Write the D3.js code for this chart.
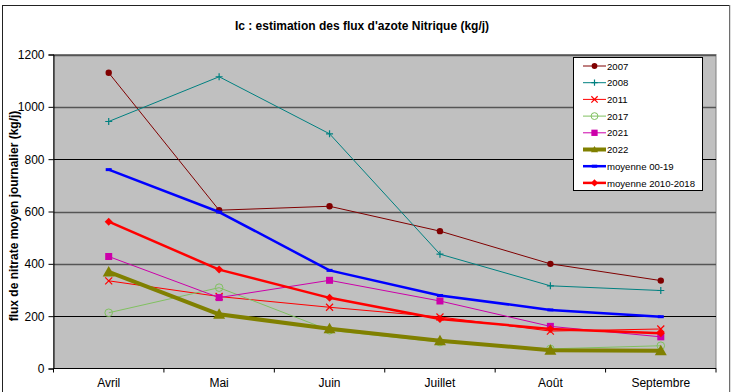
<!DOCTYPE html>
<html>
<head>
<meta charset="utf-8">
<script src="https://cdn.jsdelivr.net/npm/d3@7"></script>
<style>
  html, body { margin: 0; padding: 0; background: #fff; }
  svg { display: block; font-family: Arial, "Liberation Sans", sans-serif; }
</style>
</head>
<body>
<svg id="chart" width="733" height="392"></svg>
<script>
// Months on the x axis
const months = ["Avril", "Mai", "Juin", "Juillet", "Août", "Septembre"];
// Y axis ticks (kg/j)
const yTicks = [0, 200, 400, 600, 800, 1000, 1200];

// Daily nitrate flux per series
const s2007 = [1130, 605, 620, 525, 400, 336];
const s2008 = [944, 1115, 897, 437, 316, 298];
const s2011 = [335, 275, 234, 197, 143, 151];
const s2017 = [213, 309, 146, 101, 75, 87];
const s2021 = [428, 271, 337, 258, 161, 121];
const s2022 = [369, 207, 152, 106, 70, 68];
const moy0019 = [760, 598, 375, 279, 224, 198];
const moy1018 = [561, 378, 270, 189, 151, 135];

const series = [
  { name: "2007", values: s2007, color: "#800000", width: 1, marker: "circle", size: 3.2 },
  { name: "2008", values: s2008, color: "#008080", width: 1, marker: "plus", size: 3.5 },
  { name: "2011", values: s2011, color: "#FF0000", width: 1, marker: "x", size: 3.5 },
  { name: "2017", values: s2017, color: "#80C060", width: 1, marker: "ocircle", size: 3.8 },
  { name: "2021", values: s2021, color: "#CC00AA", width: 1, marker: "square", size: 3.5 },
  { name: "2022", values: s2022, color: "#808000", width: 4, marker: "triangle", size: 6 },
  { name: "moyenne 00-19", values: moy0019, color: "#0000FF", width: 2.5, marker: "dash", size: 3 },
  { name: "moyenne 2010-2018", values: moy1018, color: "#FF0000", width: 2.5, marker: "diamond", size: 4 }
];

const svg = d3.select("#chart");
const plot = { left: 53.5, right: 716, top: 54.5, bottom: 368.5 };

// Outer chart frame
svg.append("rect")
  .attr("x", 2.5).attr("y", 5.5).attr("width", 727).attr("height", 392)
  .attr("fill", "#fff").attr("stroke", "#222").attr("stroke-width", 1);
svg.append("line")
  .attr("x1", 730).attr("x2", 730).attr("y1", 5).attr("y2", 392)
  .attr("stroke", "#bbb");

const x = d3.scaleBand().domain(months).range([plot.left, plot.right]).padding(0);
const y = d3.scaleLinear().domain([0, 1200]).range([plot.bottom, plot.top]);
const cx = m => x(m) + x.bandwidth() / 2;

// Plot area
svg.append("rect")
  .attr("x", plot.left).attr("y", plot.top)
  .attr("width", plot.right - plot.left).attr("height", plot.bottom - plot.top)
  .attr("fill", "#C0C0C0").attr("stroke", "#808080").attr("stroke-width", 1);

// Horizontal gridlines
svg.append("g").selectAll("line")
  .data(yTicks.filter(t => t > 0))
  .join("line")
  .attr("x1", plot.left).attr("x2", plot.right)
  .attr("y1", d => Math.round(y(d)) + 0.5).attr("y2", d => Math.round(y(d)) + 0.5)
  .attr("stroke", (d, i) => (d === 800 || d === 200) ? "#000" : "#555")
  .attr("stroke-width", (d) => (d === 800 || d === 200) ? 1 : 1.4);

// Y axis
const yAxis = d3.axisLeft(y).tickValues(yTicks).tickSize(5).tickPadding(4).tickFormat(d3.format("d"));
const gy = svg.append("g").attr("transform", `translate(${plot.left},0)`).call(yAxis);
gy.select(".domain").attr("stroke", "#000");
gy.selectAll("text").attr("font-size", 12).attr("fill", "#000").attr("font-family", "Arial, 'Liberation Sans', sans-serif");

// X axis: ticks sit between months
const gx = svg.append("g").attr("transform", `translate(0,${plot.bottom})`);
gx.append("line").attr("x1", plot.left).attr("x2", plot.right).attr("stroke", "#000");
const bounds = months.map(m => x(m)).concat([plot.right]);
gx.selectAll("line.tick").data(bounds).join("line").attr("class", "tick")
  .attr("x1", d => d).attr("x2", d => d).attr("y1", 0).attr("y2", 4).attr("stroke", "#000");
gx.selectAll("text").data(months).join("text")
  .attr("x", d => cx(d)).attr("y", 18)
  .attr("text-anchor", "middle").attr("font-size", 12).attr("fill", "#000")
  .text(d => d);

// Title
svg.append("text")
  .attr("x", 362).attr("y", 30)
  .attr("text-anchor", "middle").attr("font-size", 12).attr("font-weight", "bold")
  .text("Ic : estimation des flux d'azote Nitrique (kg/j)");

// Y axis title
svg.append("text")
  .attr("transform", "translate(18,216) rotate(-90)")
  .attr("text-anchor", "middle").attr("font-size", 12).attr("font-weight", "bold")
  .text("flux de nitrate moyen journalier (kg/j)");

// Marker drawing
function drawMarker(g, s, px, py, scale) {
  const r = s.size * (scale || 1);
  const c = s.color;
  switch (s.marker) {
    case "circle":
      g.append("circle").attr("cx", px).attr("cy", py).attr("r", r).attr("fill", c);
      break;
    case "ocircle":
      g.append("circle").attr("cx", px).attr("cy", py).attr("r", r)
        .attr("fill", "none").attr("stroke", c).attr("stroke-width", 1);
      break;
    case "plus":
      g.append("path").attr("d", `M${px - r},${py}H${px + r}M${px},${py - r}V${py + r}`)
        .attr("stroke", c).attr("stroke-width", 1.2);
      break;
    case "x":
      g.append("path").attr("d", `M${px - r},${py - r}L${px + r},${py + r}M${px - r},${py + r}L${px + r},${py - r}`)
        .attr("stroke", c).attr("stroke-width", 1.2);
      break;
    case "square":
      g.append("rect").attr("x", px - r).attr("y", py - r).attr("width", 2 * r).attr("height", 2 * r).attr("fill", c);
      break;
    case "triangle":
      g.append("path").attr("d", `M${px},${py - r}L${px + r},${py + r * 0.75}L${px - r},${py + r * 0.75}Z`).attr("fill", c);
      break;
    case "dash":
      g.append("rect").attr("x", px - r).attr("y", py - 1.5).attr("width", 2 * r).attr("height", 3).attr("fill", c);
      break;
    case "diamond":
      g.append("path").attr("d", `M${px},${py - r}L${px + r},${py}L${px},${py + r}L${px - r},${py}Z`).attr("fill", c);
      break;
  }
}

// Series lines and markers
const line = d3.line().x((d, i) => cx(months[i])).y(d => y(d));
const gs = svg.append("g");
series.forEach(s => {
  const g = gs.append("g");
  g.append("path").datum(s.values).attr("d", line)
    .attr("fill", "none").attr("stroke", s.color).attr("stroke-width", s.width)
    .attr("stroke-linejoin", "round");
  s.values.forEach((v, i) => drawMarker(g, s, cx(months[i]), y(v)));
});

// Legend
const lg = svg.append("g");
lg.append("rect").attr("x", 573.5).attr("y", 57.5).attr("width", 129).attr("height", 133)
  .attr("fill", "#fff").attr("stroke", "#000").attr("stroke-width", 1);
series.forEach((s, i) => {
  const ly = 66 + i * 16.7;
  lg.append("line").attr("x1", 583).attr("x2", 606).attr("y1", ly).attr("y2", ly)
    .attr("stroke", s.color).attr("stroke-width", s.width);
  drawMarker(lg, s, 594.5, ly, s.marker === "triangle" ? 0.6 : 0.9);
  lg.append("text").attr("x", 607).attr("y", ly + 3.6)
    .attr("font-size", 9.6).attr("fill", "#000").text(s.name);
});
</script>
</body>
</html>
